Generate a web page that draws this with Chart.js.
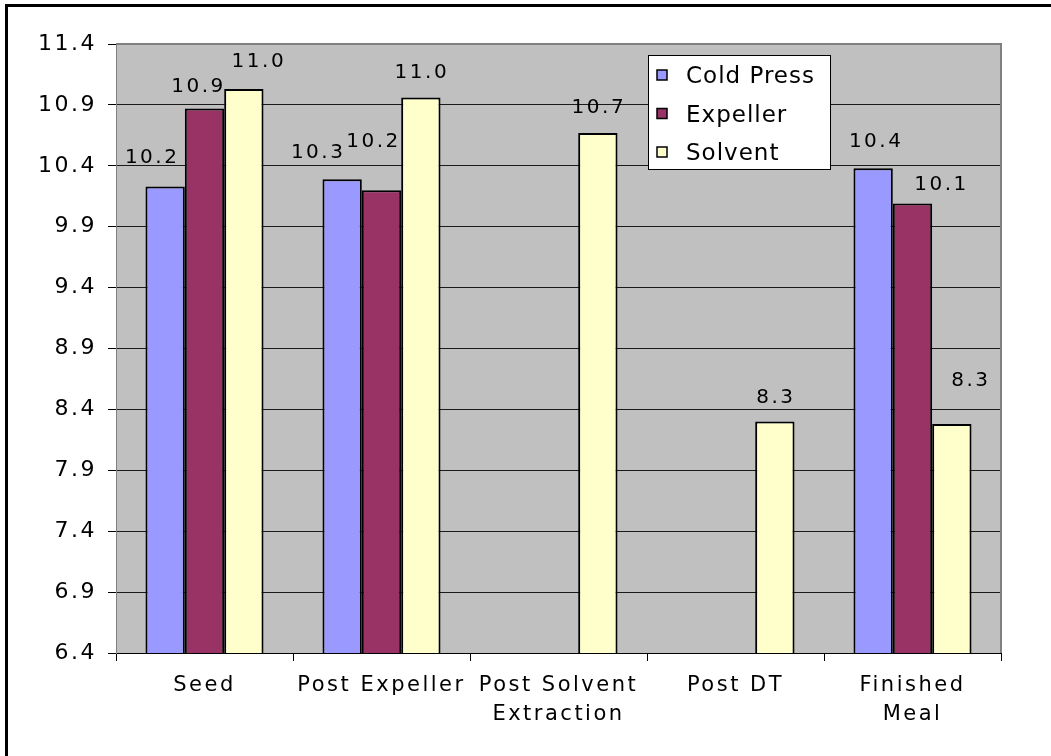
<!DOCTYPE html>
<html>
<head>
<meta charset="utf-8">
<script src="https://cdn.jsdelivr.net/npm/chart.js@4/dist/chart.umd.min.js"></script>
<style>
  html, body { margin: 0; padding: 0; background: #fff; }
  canvas { display: block; }
</style>
</head>
<body>
<canvas id="chart" width="1051" height="756"></canvas>
<script>
// Process stages along the bottom axis
const categories = ['Seed', 'Post Expeller', ['Post Solvent', 'Extraction'], 'Post DT', ['Finished', 'Meal']];

// Series names
const seriesNames = ['Cold Press', 'Expeller', 'Solvent'];

// Values per stage (null where a process has no sample)
const coldPress = [10.23, 10.29, null, null, 10.38];
const expeller  = [10.87, 10.20, null, null, 10.09];
const solvent   = [11.03, 10.96, 10.67, 8.30, 8.28];

// Value axis tick labels
const yTicks = [6.4, 6.9, 7.4, 7.9, 8.4, 8.9, 9.4, 9.9, 10.4, 10.9, 11.4];

// Series fills
const seriesColors = ['#9999FF', '#993366', '#FFFFCC'];

// Hand nudges [dx, dy] for each value label, per series and stage
const labelNudge = [
  [[-14, -4], [-25, -1], [0, 0], [0, 0], [2, -1]],
  [[-7, 3],   [-9, -23], [0, 0], [0, 0], [28, 6]],
  [[14, -2],  [0, 0],    [0, 0], [0, 1], [18, -18]]
];

const FONT = "'DejaVu Sans', 'Liberation Sans', Arial, sans-serif";
const SPACING = '2.5px';

// Wide lettering for every text drawn on the canvas
const spacingPlugin = {
  id: 'spacing',
  beforeUpdate(chart) { chart.ctx.letterSpacing = SPACING; },
  beforeDraw(chart) { chart.ctx.letterSpacing = SPACING; }
};

// Page frame and grey plot background
const backdropPlugin = {
  id: 'backdrop',
  beforeDraw(chart) {
    const { ctx, chartArea: a } = chart;
    ctx.save();
    ctx.fillStyle = '#ffffff';
    ctx.fillRect(0, 0, chart.width, chart.height);
    ctx.fillStyle = '#000000';
    ctx.fillRect(5, 4, chart.width - 5, 3);
    ctx.fillRect(5, 4, 3, chart.height - 4);
    ctx.fillStyle = '#C0C0C0';
    ctx.fillRect(a.left, a.top, a.right - a.left, a.bottom - a.top);
    ctx.restore();
  }
};

// Plot frame, value labels and the boxed legend
const overlayPlugin = {
  id: 'overlay',
  afterDatasetsDraw(chart) {
    const { ctx, chartArea: a } = chart;
    ctx.save();
    ctx.strokeStyle = '#808080';
    ctx.lineWidth = 2;
    ctx.beginPath();
    ctx.moveTo(a.left, a.top);
    ctx.lineTo(a.right, a.top);
    ctx.lineTo(a.right, a.bottom);
    ctx.stroke();

    ctx.letterSpacing = SPACING;
    ctx.fillStyle = '#000';
    ctx.font = '20px ' + FONT;
    ctx.textAlign = 'center';
    ctx.textBaseline = 'alphabetic';
    chart.data.datasets.forEach((ds, di) => {
      const meta = chart.getDatasetMeta(di);
      meta.data.forEach((bar, i) => {
        const v = ds.data[i];
        if (v === null || v === undefined) return;
        const [dx, dy] = labelNudge[di][i];
        ctx.fillText(v.toFixed(1), bar.x + dx + 1, bar.y - 20 + dy);
      });
    });
    ctx.restore();
  },
  afterDraw(chart) {
    const { ctx } = chart;
    const box = { x: 648, y: 55, w: 182, h: 114 };
    ctx.save();
    ctx.fillStyle = '#ffffff';
    ctx.fillRect(box.x, box.y, box.w, box.h);
    ctx.strokeStyle = '#000';
    ctx.lineWidth = 1;
    ctx.strokeRect(box.x + 0.5, box.y + 0.5, box.w, box.h);
    ctx.letterSpacing = '1px';
    ctx.font = '23px ' + FONT;
    ctx.textAlign = 'left';
    ctx.textBaseline = 'alphabetic';
    chart.data.datasets.forEach((ds, i) => {
      const cy = 75 + i * 38.5;
      ctx.fillStyle = ds.backgroundColor;
      ctx.fillRect(657, cy - 5, 10, 10);
      ctx.lineWidth = 1.5;
      ctx.strokeStyle = '#000';
      ctx.strokeRect(657, cy - 5, 10, 10);
      ctx.fillStyle = '#000';
      ctx.fillText(ds.label, 686, cy + 8);
    });
    ctx.restore();
  }
};

const seriesValues = [coldPress, expeller, solvent];

new Chart(document.getElementById('chart'), {
  type: 'bar',
  data: {
    labels: categories,
    datasets: seriesNames.map((name, i) => ({
      label: name,
      data: seriesValues[i],
      backgroundColor: seriesColors[i],
      borderColor: '#000000',
      borderWidth: 2,
      borderSkipped: false,
      categoryPercentage: 0.667,
      barPercentage: 1.0
    }))
  },
  options: {
    responsive: false,
    animation: false,
    devicePixelRatio: 1,
    layout: { padding: { top: 44, right: 50, left: 0, bottom: 0 } },
    plugins: {
      legend: { display: false },
      tooltip: { enabled: false }
    },
    scales: {
      x: {
        grid: {
          offset: true,
          drawOnChartArea: false,
          drawTicks: true,
          tickLength: 8,
          color: '#000'
        },
        border: { color: '#000', width: 1 },
        ticks: {
          color: '#000',
          font: { family: FONT, size: 21, lineHeight: 1.38 },
          padding: 10,
          maxRotation: 0,
          autoSkip: false
        },
        afterFit(scale) { scale.height = 103; }
      },
      y: {
        min: yTicks[0],
        max: yTicks[yTicks.length - 1],
        afterBuildTicks(scale) {
          scale.ticks = yTicks.map(v => ({ value: v }));
        },
        grid: {
          color: '#1a1a1a',
          lineWidth: 1,
          tickLength: 8,
          tickColor: '#000'
        },
        border: { color: '#808080', width: 1 },
        ticks: {
          color: '#000',
          font: { family: FONT, size: 22 },
          padding: 11,
          callback: v => Number(v).toFixed(1)
        },
        afterFit(scale) { scale.width = 116; }
      }
    }
  },
  plugins: [spacingPlugin, backdropPlugin, overlayPlugin]
});
</script>
</body>
</html>
